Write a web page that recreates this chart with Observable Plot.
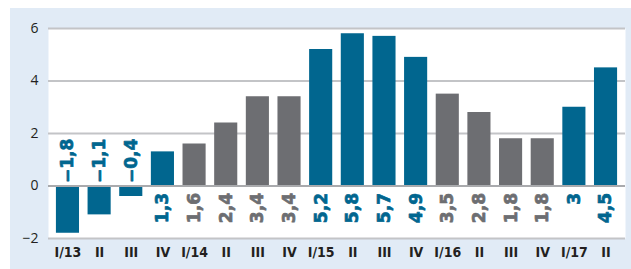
<!DOCTYPE html>
<html><head><meta charset="utf-8">
<script src="https://cdn.jsdelivr.net/npm/d3@7"></script>
<script src="https://cdn.jsdelivr.net/npm/@observablehq/plot@0.6"></script>
<style>
html,body{margin:0;padding:0;background:#fff;}
#chart{position:absolute;left:10px;top:8px;width:621px;height:261px;background:#e1ebf6;}
#chart svg{display:block;}
g[aria-label="x-axis tick label"] text{font-family:"Liberation Sans Narrow","DejaVu Sans Condensed","Roboto",sans-serif;font-weight:bold;font-size:14px;fill:#231f20;}
g[aria-label="y-axis tick label"] text{font-family:"Open Sans","Roboto",sans-serif;font-size:14px;fill:#231f20;}
</style></head><body><div id="chart"></div>
<script>
const quarters = ["I/13","II","III","IV","I/14","II","III","IV","I/15","II","III","IV","I/16","II","III","IV","I/17","II"];
const years = [2013,2013,2013,2013,2014,2014,2014,2014,2015,2015,2015,2015,2016,2016,2016,2016,2017,2017];
const values = [-1.8,-1.1,-0.4,1.3,1.6,2.4,3.4,3.4,5.2,5.8,5.7,4.9,3.5,2.8,1.8,1.8,3,4.5];
const yTicks = [-2,0,2,4,6];
const yearList = [2013,2014,2015,2016,2017];

const blue = "#01668f", gray = "#6d6e72";
const data = quarters.map((q, i) => ({i, q, year: years[i], value: values[i]}));
const fmt = v => (v < 0 ? "\u2212" : "") + String(Math.abs(v)).replace(".", ",");
const labelFont = {fontSize: 17, fontWeight: "bold", fontFamily: "'DejaVu Sans', sans-serif", stroke: "year", strokeWidth: 0.7};

const plot = Plot.plot({
  width: 621, height: 261,
  marginLeft: 38, marginRight: 6, marginTop: 20, marginBottom: 31,
  style: {background: "transparent", overflow: "visible"},
  x: {type: "band", domain: d3.range(quarters.length), paddingInner: 0.27, paddingOuter: 0.25, round: false,
      tickSize: 0, tickPadding: 9, tickFormat: i => quarters[i], label: null},
  y: {domain: [-2, 6], ticks: yTicks, tickSize: 0, tickPadding: 10, tickFormat: d => d < 0 ? "\u2212" + Math.abs(d) : String(d), label: null},
  color: {type: "ordinal", domain: yearList, range: [blue, gray, blue, gray, blue]},
  marks: [
    Plot.frame({fill: "white", stroke: null}),
    Plot.ruleY(yTicks.filter(t => t !== 0), {stroke: "#c3c4c7", strokeWidth: 2}),
    Plot.barY(data, {x: "i", y: "value", fill: "year"}),
    Plot.ruleY([0], {stroke: "#a9aaad", strokeWidth: 2}),
    Plot.text(data.filter(d => d.value >= 0), {x: "i", y: () => 0, text: d => fmt(d.value), rotate: -90,
      textAnchor: "end", dy: 7, fill: "year", ...labelFont}),
    Plot.text(data.filter(d => d.value < 0), {x: "i", y: () => 0, text: d => fmt(d.value), rotate: -90,
      textAnchor: "start", dy: -3, fill: "year", ...labelFont})
  ]
});
document.getElementById("chart").appendChild(plot);
</script></body></html>
